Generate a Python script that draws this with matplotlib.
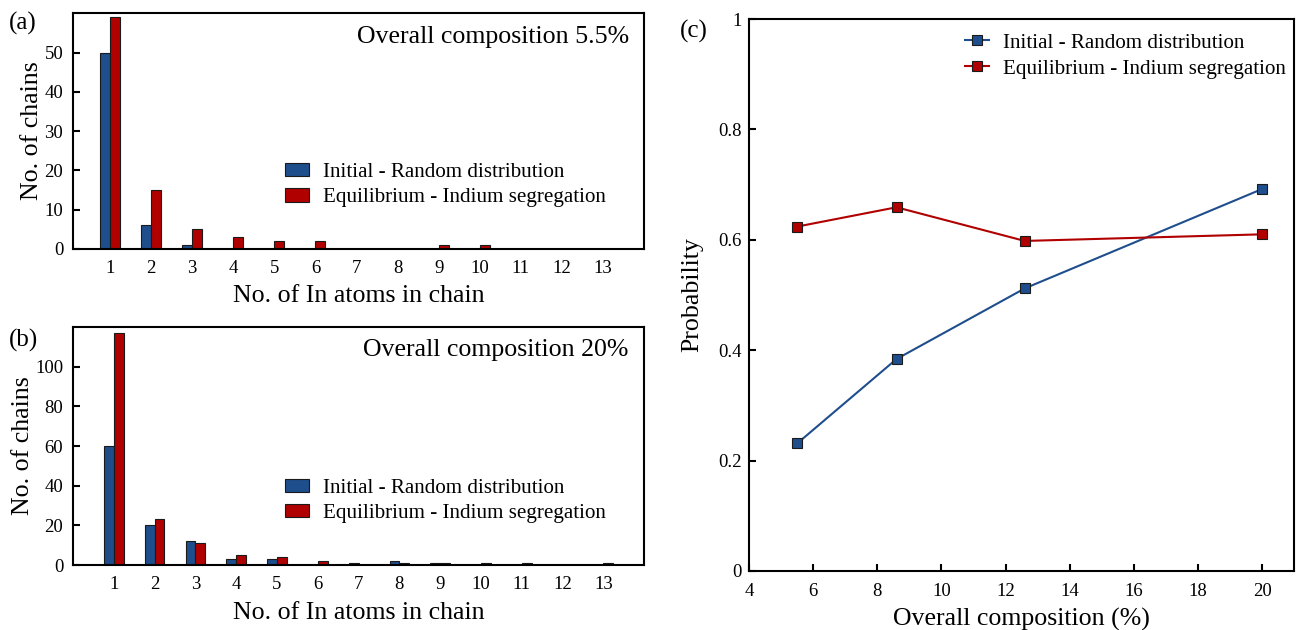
import numpy as np
import matplotlib
matplotlib.use('Agg')
import matplotlib.pyplot as plt

plt.rcParams['font.family'] = ['Liberation Serif', 'DejaVu Serif']
plt.rcParams['axes.linewidth'] = 1.5

BLUE = '#1f4e8c'
RED = '#b00000'
EDGE = '#1a1a1a'

# chain length distributions
chain_len = np.arange(1, 14)
init_55 = [50, 6, 1, 0, 0, 0, 0, 0, 0, 0, 0, 0, 0]
equil_55 = [59, 15, 5, 3, 2, 2, 0, 0, 1, 1, 0, 0, 0]
init_20 = [60, 20, 12, 3, 3, 0, 1, 2, 1, 0, 0, 0, 0]
equil_20 = [117, 23, 11, 5, 4, 2, 0, 1, 1, 1, 1, 0, 1]

# probability vs overall composition
composition = [5.5, 8.6, 12.6, 20]
prob_init = [0.231, 0.384, 0.512, 0.692]
prob_equil = [0.624, 0.659, 0.598, 0.610]

LBL_INIT = 'Initial - Random distribution'
LBL_EQ = 'Equilibrium - Indium segregation'

fig = plt.figure(figsize=(13.04, 6.30), dpi=100)
ax_a = fig.add_axes([0.056, 0.605, 0.438, 0.374])
ax_b = fig.add_axes([0.056, 0.103, 0.438, 0.378])
ax_c = fig.add_axes([0.5744, 0.0937, 0.418, 0.876])


def bar_panel(ax, init, equil, ymax, yticks, note, note_y, xlim):
    w = 0.24
    ax.bar(chain_len - w / 2, init, w, color=BLUE, edgecolor=EDGE, linewidth=0.8, label=LBL_INIT)
    ax.bar(chain_len + w / 2, equil, w, color=RED, edgecolor=EDGE, linewidth=0.8, label=LBL_EQ)
    ax.set_xlim(*xlim)
    ax.set_ylim(0, ymax)
    ax.set_xticks(chain_len)
    ax.set_yticks(yticks)
    ax.tick_params(axis='x', length=0, labelsize=13.5, pad=8)
    ax.tick_params(axis='y', direction='in', length=5, width=1.5, labelsize=13.5, pad=7)
    ax.set_xlabel('No. of In atoms in chain', fontsize=18.6, labelpad=6)
    ax.set_ylabel('No. of chains', fontsize=18.6, labelpad=1)
    ax.text(0.973, note_y, note, transform=ax.transAxes, ha='right', va='center', fontsize=18.6)
    ax.legend(loc='center left', bbox_to_anchor=(0.371, 0.27), frameon=False,
              fontsize=15.1, handlelength=1.15, handleheight=0.6, handletextpad=0.67,
              labelspacing=0.3, borderpad=0, borderaxespad=0)


bar_panel(ax_a, init_55, equil_55, 60, [0, 10, 20, 30, 40, 50],
          'Overall composition 5.5%', 0.9, (0.1, 14))
bar_panel(ax_b, init_20, equil_20, 120, [0, 20, 40, 60, 80, 100],
          'Overall composition 20%', 0.905, (0, 14))

ax_c.plot(composition, prob_init, '-s', color=BLUE, lw=1.5, ms=6.5,
          mfc=BLUE, mec=EDGE, mew=0.8, label=LBL_INIT)
ax_c.plot(composition, prob_equil, '-s', color=RED, lw=1.5, ms=6.5,
          mfc=RED, mec=EDGE, mew=0.8, label=LBL_EQ)
ax_c.set_xlim(4, 21)
ax_c.set_ylim(0, 1)
ax_c.set_xticks([4, 6, 8, 10, 12, 14, 16, 18, 20])
ax_c.set_yticks([0, 0.2, 0.4, 0.6, 0.8, 1])
ax_c.set_yticklabels(['0', '0.2', '0.4', '0.6', '0.8', '1'])
ax_c.tick_params(direction='in', length=5, width=1.5, labelsize=13.5)
ax_c.tick_params(axis='x', pad=8.5)
ax_c.tick_params(axis='y', pad=5)
ax_c.set_xlabel('Overall composition (%)', fontsize=18.6, labelpad=5.5)
ax_c.set_ylabel('Probability', fontsize=18.6, labelpad=11)
ax_c.legend(loc='upper left', bbox_to_anchor=(0.396, 0.975), frameon=False,
            fontsize=15.1, handlelength=1.15, handletextpad=0.67, labelspacing=0.3,
            borderpad=0, borderaxespad=0)

fig.text(0.007, 0.962, '(a)', fontsize=18, va='center')
fig.text(0.007, 0.46, '(b)', fontsize=18, va='center')
fig.text(0.521, 0.95, '(c)', fontsize=18, va='center')

fig.savefig('out.png', dpi=100)
